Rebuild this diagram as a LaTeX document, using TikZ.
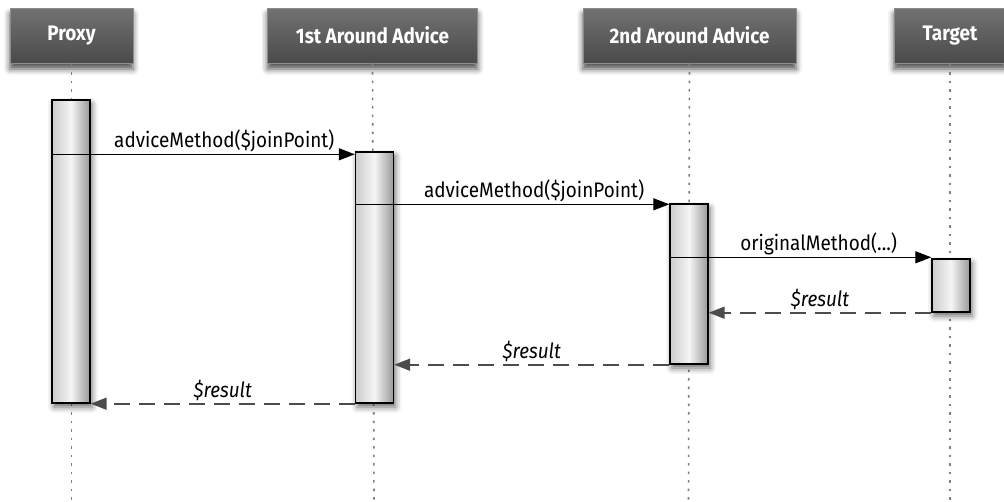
\documentclass[tikz,border=0pt]{standalone}
\usepackage{fontspec}
\setmainfont{Fira Sans}[FakeStretch=0.9]
\usetikzlibrary{arrows.meta,shadows.blur}
\definecolor{headtop}{HTML}{727272}
\definecolor{headbot}{HTML}{4A4A4A}
\definecolor{headline}{HTML}{8C8C8C}

\begin{document}
\begin{tikzpicture}[x=1pt,y=-1pt,
  head/.style={shape=rectangle, minimum height=55pt, draw=headline, line width=1pt,
    top color=headtop, bottom color=headbot, text=white, font=\fontsize{21}{23}\selectfont\bfseries,
    blur shadow={shadow xshift=0pt, shadow yshift=-6pt, shadow blur radius=6pt, shadow opacity=70}},
  bar/.style={shape=rectangle, minimum width=38pt, draw=black, line width=1.4pt,
    left color=gray!40, right color=gray!80, middle color=gray!8,
    blur shadow={shadow xshift=2pt, shadow yshift=-4pt, shadow blur radius=6pt, shadow opacity=60}},
  life/.style={draw=gray, line width=1.6pt, dash pattern=on 2.5pt off 6pt},
  call/.style={draw=black, line width=1.3pt, -{Triangle[length=16pt,width=12pt]}},
  back/.style={draw=black!70, line width=1.8pt, dash pattern=on 16pt off 9pt, -{Triangle[length=16pt,width=12pt]}},
  msg/.style={font=\fontsize{21}{23}\selectfont, above=1pt, inner sep=1pt, pos=0.57},
  res/.style={font=\fontsize{21}{23}\selectfont\itshape, above=1pt, inner sep=1pt}]

\useasboundingbox (0,0) rectangle (1004,501);
\clip (0,0) rectangle (1004,501);

% lifelines
\path (71.5,501) coordinate (pend);
\path (374,501) coordinate (aend);
\path (688.5,501) coordinate (bend);
\path (950,501) coordinate (tend);

% headers
\path (71.5,35.5) node (proxy) [head, minimum width=123pt] {Proxy};
\path (372.5,35.5) node (first) [head, minimum width=210pt] {1st Around Advice};
\path (689.5,35.5) node (second) [head, minimum width=213pt] {2nd Around Advice};
\path (950,35.5) node (target) [head, minimum width=112pt] {Target};

\draw[life] (proxy.south) -- (pend);
\draw[life] (first.south) -- (aend);
\draw[life] (second.south) -- (bend);
\draw[life] (target.south) -- (tend);

% activations
\path (71,251.5) node (pbar) [bar, minimum height=303pt] {};
\path (374.5,277.5) node (abar) [bar, minimum height=251pt] {};
\path (689,284) node (bbar) [bar, minimum height=160pt] {};
\path (951,285.5) node (tbar) [bar, minimum height=53pt] {};

% calls
\draw[call] ([yshift=-55pt]pbar.north west) -- node[msg] {adviceMethod(\$joinPoint)} ([yshift=-55pt]pbar.north west -| abar.west);
\draw[call] ([yshift=-53pt]abar.north west) -- node[msg] {adviceMethod(\$joinPoint)} ([yshift=-53pt]abar.north west -| bbar.west);
\draw[call] ([yshift=-54pt]bbar.north west) -- node[msg] {originalMethod(...)} ([yshift=-54pt]bbar.north west -| tbar.west);

% returns
\draw[back] (tbar.south west) -- node[res] {\$result} (tbar.south west -| bbar.east);
\draw[back] (bbar.south west) -- node[res] {\$result} (bbar.south west -| abar.east);
\draw[back] (abar.south west) -- node[res] {\$result} (abar.south west -| pbar.east);

\end{tikzpicture}
\end{document}
